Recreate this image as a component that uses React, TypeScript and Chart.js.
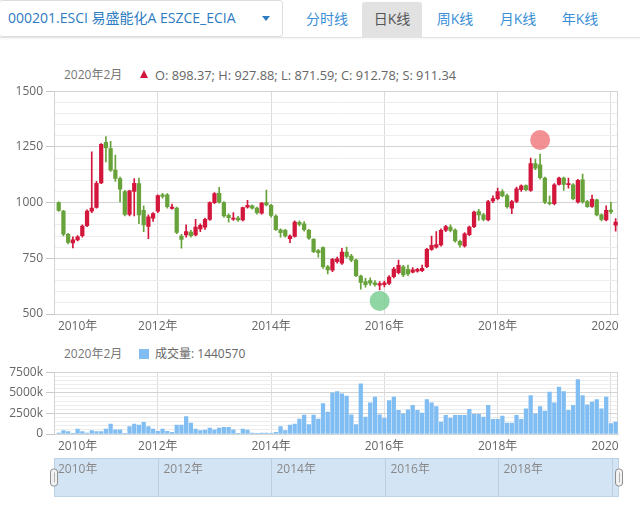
import React, { useEffect, useRef } from 'react';
import { Chart, registerables } from 'chart.js';

Chart.register(...registerables);

const FONT = "'Open Sans', 'Noto Sans CJK SC', sans-serif";

const symbolTitle = '000201.ESCI 易盛能化A ESZCE_ECIA';
const tabs = ['分时线', '日K线', '周K线', '月K线', '年K线'];
const activeTab = '日K线';
const lastPeriod = '2020年2月';
const lastSettle = 911.34;
const volumeName = '成交量';

const opens = [
  1000, 962, 858, 819, 833, 852, 897, 962, 978, 1088,
  1270, 1243, 1146, 1108, 1050, 947, 1050, 1085, 965, 893,
  930, 962, 1035, 1035, 974, 975, 850, 855, 868, 855,
  882, 890, 925, 1000, 1042, 1000, 943, 926, 930, 922,
  979, 985, 975, 952, 1000, 988, 940, 878, 875, 838,
  848, 912, 905, 876, 835, 785, 798, 712, 697, 735,
  728, 778, 760, 742, 670, 645, 650, 640, 629, 632,
  637, 667, 685, 712, 700, 688, 692, 695, 712, 790,
  800, 810, 876, 890, 877, 826, 806, 856, 892, 960,
  945, 922, 1007, 1018, 1050, 1032, 975, 1005, 1058, 1076,
  1055, 1175, 1170, 1110, 1000, 995, 1082, 1110, 1080, 1080,
  1003, 1102, 1005, 983, 1012, 945, 922, 966, 898.37,
];
const highs = [
  1003, 965, 862, 846, 852, 900, 968, 1228, 1095, 1265,
  1296, 1275, 1213, 1115, 1055, 1055, 1108, 1110, 985, 945,
  955, 1035, 1042, 1040, 993, 980, 858, 900, 875, 925,
  905, 930, 1003, 1045, 1068, 1005, 950, 955, 938, 980,
  1010, 990, 980, 1000, 1056, 992, 945, 882, 880, 855,
  918, 918, 915, 880, 838, 790, 802, 718, 750, 755,
  795, 800, 768, 746, 675, 660, 662, 650, 645, 648,
  672, 710, 742, 718, 720, 708, 705, 720, 795, 850,
  870, 882, 898, 900, 882, 832, 865, 895, 962, 970,
  952, 1010, 1030, 1065, 1058, 1038, 1010, 1070, 1080, 1080,
  1200, 1195, 1218, 1115, 1030, 1085, 1115, 1115, 1110, 1085,
  1105, 1128, 1010, 1034, 1016, 950, 985, 1001, 927.88,
];
const lows = [
  960, 850, 815, 797, 828, 845, 892, 955, 975, 1085,
  1183, 1140, 1095, 1003, 940, 940, 940, 905, 870, 838,
  915, 955, 1020, 975, 970, 860, 795, 845, 845, 850,
  870, 880, 920, 995, 998, 935, 912, 920, 915, 918,
  975, 970, 948, 948, 985, 935, 875, 845, 845, 820,
  845, 895, 872, 835, 775, 755, 705, 680, 690, 728,
  722, 752, 735, 668, 612, 620, 628, 625, 608, 622,
  632, 662, 680, 668, 672, 684, 688, 690, 708, 785,
  795, 805, 870, 868, 822, 800, 800, 852, 888, 920,
  918, 918, 1000, 1012, 1025, 975, 950, 1000, 1050, 1052,
  1050, 1148, 1105, 995, 990, 990, 1078, 1055, 1065, 1012,
  998, 998, 978, 978, 940, 918, 918, 950, 871.59,
];
const closes = [
  965, 858, 821, 833, 846, 895, 962, 975, 1086, 1261,
  1245, 1146, 1108, 1060, 947, 1053, 1087, 945, 900, 936,
  951, 1031, 1028, 982, 980, 866, 835, 870, 852, 890,
  898, 925, 1000, 1040, 1002, 940, 932, 931, 922, 978,
  988, 975, 955, 998, 990, 942, 878, 865, 850, 850,
  913, 902, 878, 840, 780, 775, 712, 698, 745, 748,
  778, 758, 742, 672, 642, 632, 638, 632, 636, 640,
  666, 702, 718, 675, 680, 698, 700, 705, 790, 808,
  812, 876, 892, 875, 828, 810, 860, 890, 958, 945,
  925, 1005, 1018, 1050, 1030, 982, 1005, 1062, 1075, 1058,
  1175, 1155, 1112, 1002, 995, 1080, 1110, 1082, 1085, 1018,
  1100, 1003, 982, 1015, 945, 925, 965, 958, 912.78,
];
const volumes = [
  120000, 400000, 280000, 80000, 600000, 280000, 120000, 400000, 280000, 280000,
  600000, 1200000, 520000, 520000, 80000, 890000, 1200000, 1090000, 1410000, 890000,
  600000, 320000, 600000, 320000, 200000, 1090000, 1090000, 2100000, 1330000, 600000,
  400000, 480000, 730000, 520000, 730000, 810000, 810000, 520000, 80000, 600000,
  480000, 120000, 80000, 120000, 120000, 80000, 200000, 890000, 400000, 1090000,
  1200000, 1810000, 2300000, 1130000, 2300000, 1810000, 3700000, 2660000, 5000000, 5160000,
  4880000, 4590000, 2340000, 1130000, 6090000, 2060000, 3790000, 4470000, 2340000, 1930000,
  4070000, 4470000, 2860000, 2460000, 2940000, 3470000, 2860000, 2540000, 4190000, 3790000,
  3340000, 1450000, 2260000, 1930000, 2260000, 2260000, 2260000, 2980000, 2380000, 2380000,
  2060000, 3470000, 1770000, 1770000, 2180000, 1330000, 1330000, 2260000, 1770000, 3060000,
  4670000, 2460000, 3340000, 2780000, 5080000, 3790000, 5680000, 5160000, 2860000, 3470000,
  6610000, 4670000, 3550000, 3870000, 4190000, 3060000, 4470000, 1250000, 1440570,
];

// event markers: [candle index, 'high' above the high / 'low' below the low]
const markerIndex = [102, 68];
const markerSide = ['high', 'low'];

const xTickIndex = [4, 21, 45, 69, 93, 117];
const xTickLabels = ['2010年', '2012年', '2014年', '2016年', '2018年', '2020年'];
const navTickIndex = [-1, 21, 45, 69, 93, 117];
const navTickLabels = ['2010年', '2012年', '2014年', '2016年', '2018年', ''];

const PRICE_MIN = 500;
const PRICE_MAX = 1500;
const PRICE_STEP = 50;
const PRICE_LABEL_STEP = 250;
const VOL_MIN = 0;
const VOL_MAX = 7500000;
const VOL_STEP = 500000;
const VOL_LABEL_STEP = 2500000;
const X_MIN = -1;
const X_MAX = 118.5;

const UP = '#d3163c';
const DOWN = '#67a23a';
const VOL_COLOR = '#80bdf2';
const TAB_BLUE = '#3b8fd6';
const TITLE_BLUE = '#2d7cc1';

const framePlugin = {
  id: 'frame',
  beforeDatasetsDraw(chart: any) {
    const { ctx, chartArea: a } = chart;
    ctx.save();
    ctx.strokeStyle = '#d4d4d4';
    ctx.lineWidth = 1;
    ctx.strokeRect(Math.round(a.left) + 0.5, Math.round(a.top) + 0.5, Math.round(a.right - a.left) - 1, Math.round(a.bottom - a.top));
    ctx.restore();
  },
};

const markersPlugin = {
  id: 'markers',
  afterDatasetsDraw(chart: any) {
    const xs = chart.scales.x;
    const ys = chart.scales.y;
    const ctx = chart.ctx;
    ctx.save();
    markerIndex.forEach((i, k) => {
      const isHigh = markerSide[k] === 'high';
      const y = isHigh ? ys.getPixelForValue(highs[i]) - 14 : ys.getPixelForValue(lows[i]) + 11;
      ctx.fillStyle = isHigh ? 'rgba(240, 120, 124, 0.82)' : 'rgba(120, 205, 145, 0.82)';
      ctx.beginPath();
      ctx.arc(xs.getPixelForValue(i), y, 10, 0, Math.PI * 2);
      ctx.fill();
    });
    ctx.restore();
  },
};

function roundRect(ctx: CanvasRenderingContext2D, x: number, y: number, w: number, h: number, r: number) {
  ctx.beginPath();
  ctx.moveTo(x + r, y);
  ctx.lineTo(x + w - r, y);
  ctx.arcTo(x + w, y, x + w, y + r, r);
  ctx.lineTo(x + w, y + h - r);
  ctx.arcTo(x + w, y + h, x + w - r, y + h, r);
  ctx.lineTo(x + r, y + h);
  ctx.arcTo(x, y + h, x, y + h - r, r);
  ctx.lineTo(x, y + r);
  ctx.arcTo(x, y, x + r, y, r);
  ctx.closePath();
}

const navPlugin = {
  id: 'navigator',
  afterDraw(chart: any) {
    const { ctx, chartArea: a } = chart;
    const xs = chart.scales.x;
    ctx.save();
    ctx.fillStyle = '#d3e4f5';
    ctx.fillRect(a.left, a.top, a.right - a.left, a.bottom - a.top);
    ctx.strokeStyle = '#bed2e6';
    ctx.lineWidth = 1;
    ctx.strokeRect(a.left + 0.5, a.top + 0.5, a.right - a.left - 1, a.bottom - a.top - 1);
    ctx.font = `12px ${FONT}`;
    ctx.textBaseline = 'middle';
    ctx.textAlign = 'left';
    navTickIndex.forEach((v, i) => {
      const px = Math.round(xs.getPixelForValue(v)) + 0.5;
      if (i > 0) {
        ctx.strokeStyle = '#bccfe2';
        ctx.beginPath();
        ctx.moveTo(px, a.top);
        ctx.lineTo(px, a.bottom);
        ctx.stroke();
      }
      ctx.fillStyle = '#888888';
      const lx = i === 0 ? a.left + 4 : px + 5;
      ctx.fillText(navTickLabels[i], lx, a.top + 12);
    });
    const cy = (a.top + a.bottom) / 2;
    [a.left, a.right].forEach((hx) => {
      roundRect(ctx, hx - 3.5, cy - 8.5, 7, 17, 3);
      ctx.fillStyle = '#f2f2f2';
      ctx.fill();
      ctx.strokeStyle = '#8f8f8f';
      ctx.stroke();
      ctx.strokeStyle = '#b0b0b0';
      ctx.beginPath();
      ctx.moveTo(Math.round(hx) + 0.5, cy - 5);
      ctx.lineTo(Math.round(hx) + 0.5, cy + 5);
      ctx.stroke();
    });
    ctx.restore();
  },
};

function xAxis() {
  return {
    type: 'linear' as const,
    min: X_MIN,
    max: X_MAX,
    offset: false,
    afterBuildTicks: (s: any) => { s.ticks = xTickIndex.map((v) => ({ value: v })); },
    afterFit: (s: any) => { s.height = 22; s.paddingLeft = 0; s.paddingRight = 0; },
    ticks: {
      autoSkip: false,
      maxRotation: 0,
      minRotation: 0,
      padding: 5,
      color: '#666',
      font: { size: 12, family: FONT },
      callback: (_v: any, i: number) => xTickLabels[i],
    },
    grid: {
      offset: false,
      drawTicks: false,
      color: (c: any) => (c.index === 0 ? 'rgba(0,0,0,0)' : '#dcdcdc'),
    },
    border: { color: '#d0d0d0' },
  };
}

export default function App() {
  const mainRef = useRef<HTMLCanvasElement>(null);
  const volRef = useRef<HTMLCanvasElement>(null);
  const navRef = useRef<HTMLCanvasElement>(null);

  useEffect(() => {
    Chart.defaults.font.family = FONT;
    Chart.defaults.font.size = 12;
    Chart.defaults.color = '#666';
    const idx = opens.map((_, i) => i);
    const candleColors = idx.map((i) => (closes[i] >= opens[i] ? UP : DOWN));

    const main = new Chart(mainRef.current as HTMLCanvasElement, {
      type: 'bar',
      data: {
        datasets: [
          {
            data: idx.map((i) => ({ x: i, y: [lows[i], highs[i]] })) as any,
            backgroundColor: candleColors,
            barThickness: 1,
            grouped: false,
            order: 2,
          } as any,
          {
            data: idx.map((i) => ({ x: i, y: [opens[i], closes[i]] })) as any,
            backgroundColor: candleColors,
            barThickness: 3.6,
            grouped: false,
            order: 1,
          } as any,
        ],
      },
      options: {
        animation: false,
        responsive: false,
        layout: { padding: { top: 10, right: 1, left: 0, bottom: 0 } },
        plugins: { legend: { display: false }, tooltip: { enabled: false } },
        scales: {
          x: xAxis() as any,
          y: {
            min: PRICE_MIN,
            max: PRICE_MAX,
            afterFit: (s: any) => { s.width = 54; },
            ticks: {
              stepSize: PRICE_STEP,
              autoSkip: false,
              padding: 3,
              color: '#666',
              font: { size: 12, family: FONT },
              callback: (v: any) => (Number(v) % PRICE_LABEL_STEP === 0 ? String(v) : ''),
            },
            grid: {
              tickLength: 8,
              color: (c: any) => (c.tick && c.tick.value % PRICE_LABEL_STEP === 0 ? '#d3d3d3' : '#ededed'),
              tickColor: (c: any) => (c.tick && c.tick.value % PRICE_LABEL_STEP === 0 ? '#c8c8c8' : 'rgba(0,0,0,0)'),
            },
            border: { color: '#d0d0d0' },
          } as any,
        },
      },
      plugins: [framePlugin, markersPlugin],
    });

    const vol = new Chart(volRef.current as HTMLCanvasElement, {
      type: 'bar',
      data: {
        datasets: [
          {
            data: idx.map((i) => ({ x: i, y: volumes[i] })) as any,
            backgroundColor: VOL_COLOR,
            barThickness: 3.6,
          } as any,
        ],
      },
      options: {
        animation: false,
        responsive: false,
        layout: { padding: { top: 10, right: 1, left: 0, bottom: 0 } },
        plugins: { legend: { display: false }, tooltip: { enabled: false } },
        scales: {
          x: xAxis() as any,
          y: {
            min: VOL_MIN,
            max: VOL_MAX,
            afterFit: (s: any) => { s.width = 54; },
            ticks: {
              stepSize: VOL_STEP,
              autoSkip: false,
              padding: 3,
              color: '#666',
              font: { size: 12, family: FONT },
              callback: (v: any) => {
                const n = Number(v);
                if (n % VOL_LABEL_STEP !== 0) return '';
                return n === 0 ? '0' : `${n / 1000}k`;
              },
            },
            grid: {
              tickLength: 8,
              color: (c: any) => (c.tick && c.tick.value % VOL_LABEL_STEP === 0 ? '#d3d3d3' : '#ededed'),
              tickColor: (c: any) => (c.tick && c.tick.value % VOL_LABEL_STEP === 0 ? '#c8c8c8' : 'rgba(0,0,0,0)'),
            },
            border: { color: '#d0d0d0' },
          } as any,
        },
      },
      plugins: [framePlugin],
    });

    const nav = new Chart(navRef.current as HTMLCanvasElement, {
      type: 'bar',
      data: { datasets: [] },
      options: {
        animation: false,
        responsive: false,
        layout: { padding: { left: 54, right: 7, top: 2, bottom: 4 } },
        plugins: { legend: { display: false }, tooltip: { enabled: false } },
        scales: {
          x: { type: 'linear', display: false, min: X_MIN, max: X_MAX, offset: false, grid: { offset: false } } as any,
          y: { display: false },
        },
      },
      plugins: [navPlugin],
    });

    return () => {
      main.destroy();
      vol.destroy();
      nav.destroy();
    };
  }, []);

  const last = opens.length - 1;
  const ohlcText = `O: ${opens[last].toFixed(2)}; H: ${highs[last].toFixed(2)}; L: ${lows[last].toFixed(2)}; C: ${closes[last].toFixed(2)}; S: ${lastSettle.toFixed(2)}`;
  const tabCenters = [327, 392, 455, 518, 580];

  return (
    <div style={{ position: 'absolute', left: 0, top: 0, width: 640, height: 507, overflow: 'hidden', background: '#fff', fontFamily: FONT }}>
      <div style={{ position: 'absolute', left: 0, top: 37, width: 640, height: 1, background: '#e3e3e3', boxShadow: '0 1px 2px rgba(0,0,0,0.06)' }} />
      <div style={{ position: 'absolute', left: -1, top: 0, width: 284, height: 37, border: '1px solid #dedede', borderRadius: 3, boxSizing: 'border-box', background: '#fff' }} />
      <span style={{ position: 'absolute', left: 8, top: 9, fontSize: 14, lineHeight: '18px', color: TITLE_BLUE, whiteSpace: 'nowrap' }}>{symbolTitle}</span>
      <div style={{ position: 'absolute', left: 262, top: 16, width: 0, height: 0, borderLeft: '4px solid transparent', borderRight: '4px solid transparent', borderTop: '5px solid ' + TITLE_BLUE }} />
      {tabs.map((t, i) => {
        const active = t === activeTab;
        return (
          <div
            key={t}
            style={{
              position: 'absolute',
              left: tabCenters[i] - 30,
              top: 2,
              width: 60,
              height: 35,
              lineHeight: '33px',
              textAlign: 'center',
              fontSize: 14,
              color: active ? '#555' : TAB_BLUE,
              background: active ? '#e2e2e2' : 'transparent',
              borderRadius: '3px 3px 0 0',
              whiteSpace: 'nowrap',
            }}
          >
            {t}
          </div>
        );
      })}

      <div style={{ position: 'absolute', left: 64, top: 67, fontSize: 12, lineHeight: '16px', color: '#777', whiteSpace: 'nowrap' }}>{lastPeriod}</div>
      <div style={{ position: 'absolute', left: 140, top: 70, width: 0, height: 0, borderLeft: '4.5px solid transparent', borderRight: '4.5px solid transparent', borderBottom: '8px solid ' + UP }} />
      <div style={{ position: 'absolute', left: 155, top: 67, fontSize: 12.8, lineHeight: '16px', color: '#666', whiteSpace: 'nowrap' }}>{ohlcText}</div>

      <canvas ref={mainRef} width={619} height={255} style={{ position: 'absolute', left: 0, top: 81, width: 619, height: 255 }} />

      <div style={{ position: 'absolute', left: 64, top: 346, fontSize: 12, lineHeight: '16px', color: '#777', whiteSpace: 'nowrap' }}>{lastPeriod}</div>
      <div style={{ position: 'absolute', left: 139, top: 349, width: 10, height: 10, background: VOL_COLOR }} />
      <div style={{ position: 'absolute', left: 155, top: 346, fontSize: 12, lineHeight: '16px', color: '#666', whiteSpace: 'nowrap' }}>{`${volumeName}: ${volumes[last]}`}</div>

      <canvas ref={volRef} width={619} height={94} style={{ position: 'absolute', left: 0, top: 362, width: 619, height: 94 }} />
      <canvas ref={navRef} width={626} height={45} style={{ position: 'absolute', left: 0, top: 456, width: 626, height: 45 }} />
    </div>
  );
}
